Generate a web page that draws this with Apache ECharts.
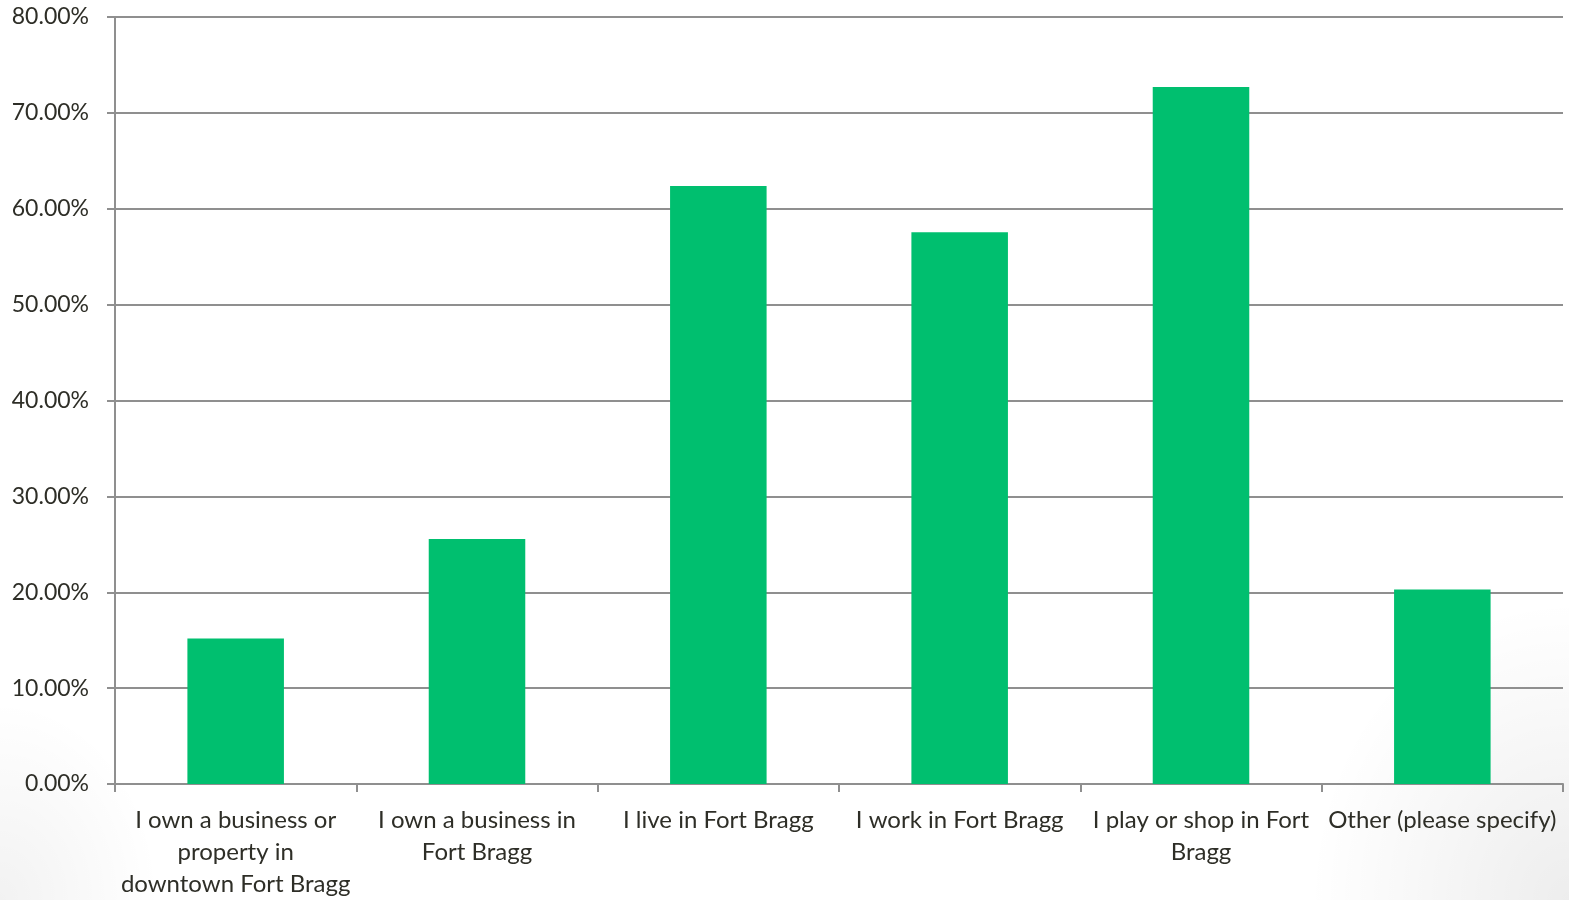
<!DOCTYPE html>
<html>
<head>
<meta charset="utf-8">
<script src="https://cdn.jsdelivr.net/npm/echarts@6/dist/echarts.min.js"></script>
<style>
  html, body { margin: 0; padding: 0; }
  body {
    width: 1569px; height: 900px; overflow: hidden;
    background:
      radial-gradient(ellipse 260px 300px at 1569px 900px, rgba(0,0,0,0.07), rgba(0,0,0,0) 100%),
      radial-gradient(ellipse 160px 200px at 0px 900px, rgba(0,0,0,0.05), rgba(0,0,0,0) 100%),
      #ffffff;
  }
  #chart { width: 1569px; height: 900px; }
</style>
</head>
<body>
<div id="chart"></div>
<script>
// Survey answers (multi-select), share of respondents in percent
const categories = [
  'I own a business or\nproperty in\ndowntown Fort Bragg',
  'I own a business in\nFort Bragg',
  'I live in Fort Bragg',
  'I work in Fort Bragg',
  'I play or shop in Fort\nBragg',
  'Other (please specify)'
];
const shares = [15.17, 25.55, 62.36, 57.56, 72.71, 20.28];
const yTicks = { min: 0, max: 80, step: 10 };

const axisGray = '#8f8f8f';
const textColor = '#2e2e27';
const fontFamily = 'Lato, "Open Sans", sans-serif';

const chart = echarts.init(document.getElementById('chart'), null, { renderer: 'canvas' });
chart.setOption({
  animation: false,
  backgroundColor: 'transparent',
  grid: { left: 115, right: 6, top: 17, bottom: 116, containLabel: false },
  xAxis: {
    type: 'category',
    data: categories,
    axisLine: { show: true, lineStyle: { color: axisGray, width: 2 } },
    axisTick: { show: true, alignWithLabel: false, length: 8, lineStyle: { color: axisGray, width: 2 } },
    axisLabel: {
      interval: 0,
      margin: 20,
      color: textColor,
      fontFamily: fontFamily,
      fontSize: 24,
      lineHeight: 32,
      align: 'center'
    }
  },
  yAxis: {
    type: 'value',
    min: yTicks.min,
    max: yTicks.max,
    interval: yTicks.step,
    axisLine: { show: true, lineStyle: { color: axisGray, width: 2 } },
    axisTick: { show: true, length: 8, lineStyle: { color: axisGray, width: 2 } },
    splitLine: { show: true, lineStyle: { color: axisGray, width: 2 } },
    axisLabel: {
      margin: 26,
      color: textColor,
      fontFamily: fontFamily,
      fontSize: 23,
      formatter: v => v.toFixed(2) + '%'
    }
  },
  series: [{
    type: 'bar',
    data: shares,
    barWidth: '40%',
    itemStyle: { color: '#00BF6F' }
  }]
});
</script>
</body>
</html>
